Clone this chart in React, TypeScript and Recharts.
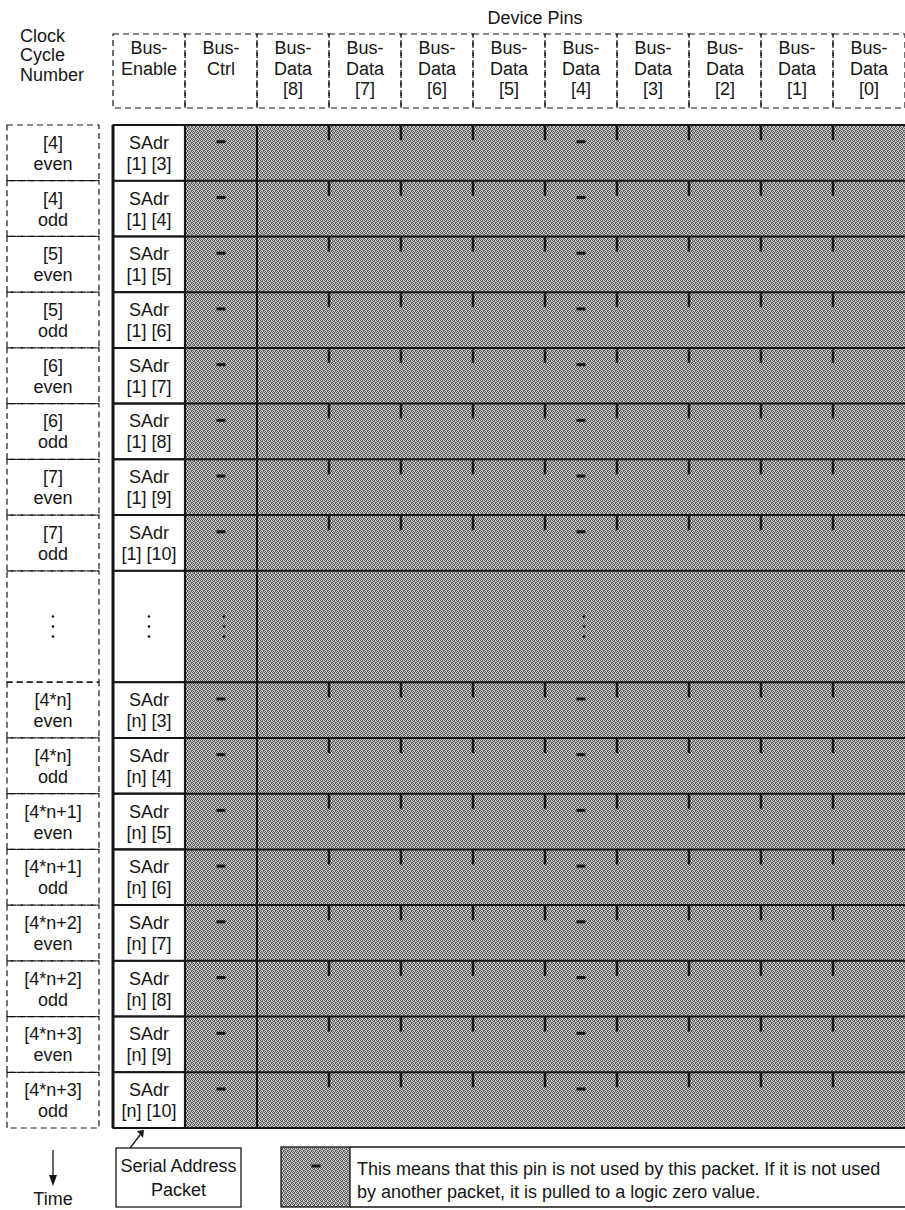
import React from "react";
import {
  ComposedChart,
  XAxis,
  YAxis,
  Scatter,
  ReferenceArea,
  ReferenceLine
} from "recharts";

// pins across the top
const columnHeads = [
  ["Bus-", "Enable"],
  ["Bus-", "Ctrl"],
  ["Bus-", "Data", "[8]"],
  ["Bus-", "Data", "[7]"],
  ["Bus-", "Data", "[6]"],
  ["Bus-", "Data", "[5]"],
  ["Bus-", "Data", "[4]"],
  ["Bus-", "Data", "[3]"],
  ["Bus-", "Data", "[2]"],
  ["Bus-", "Data", "[1]"],
  ["Bus-", "Data", "[0]"]
];

// clock cycles down the side (null = the "..." gap row)
const cycleNumbers = [
  "[4]", "[4]", "[5]", "[5]", "[6]", "[6]", "[7]", "[7]",
  null,
  "[4*n]", "[4*n]", "[4*n+1]", "[4*n+1]", "[4*n+2]", "[4*n+2]", "[4*n+3]", "[4*n+3]"
];
const cyclePhases = [
  "even", "odd", "even", "odd", "even", "odd", "even", "odd",
  null,
  "even", "odd", "even", "odd", "even", "odd", "even", "odd"
];
const packetBits = [
  "[1] [3]", "[1] [4]", "[1] [5]", "[1] [6]", "[1] [7]", "[1] [8]", "[1] [9]", "[1] [10]",
  null,
  "[n] [3]", "[n] [4]", "[n] [5]", "[n] [6]", "[n] [7]", "[n] [8]", "[n] [9]", "[n] [10]"
];
const rowSpans = [1, 1, 1, 1, 1, 1, 1, 1, 2, 1, 1, 1, 1, 1, 1, 1, 1];

// columns carrying the "-" (unused) mark, and the column edges with short ticks
const unusedMarkCols = [1, 6];
const tickEdges = [3, 4, 5, 6, 7, 8, 9, 10];

const W = 905;
const H = 1210;
const PLOT_LEFT = 113;
const PLOT_TOP = 125;
const PLOT_BOTTOM = 1128;
const NCOLS = columnHeads.length;
const COL_W = (W - PLOT_LEFT) / NCOLS;

let acc = 0;
const rows = rowSpans.map((span, i) => {
  const start = acc;
  acc += span;
  return {
    i,
    span,
    start,
    end: acc,
    mid: start + span / 2,
    cycle: cycleNumbers[i],
    phase: cyclePhases[i],
    bits: packetBits[i],
    gap: cycleNumbers[i] === null
  };
});
const NROWS = acc;
const ROW_H = (PLOT_BOTTOM - PLOT_TOP) / NROWS;

const packetCells = rows.map((r) => ({ x: 0.5, y: r.mid, bits: r.bits, gap: r.gap }));
const unusedMarks = rows.flatMap((r) =>
  unusedMarkCols.map((c) => ({ x: c + 0.5, y: r.gap ? r.mid : r.start + 0.3, gap: r.gap }))
);
const boundaries = [0, ...rows.map((r) => r.end)];

const FONT = "'Liberation Sans', Arial, Helvetica, sans-serif";
const FS = 18;
const INK = "#161616";

// halftone screen for the "unused pin" shading
const SCREEN = ["1010", "0110", "1001", "0101"];

const Dots = ({ cx, cy }: any) => (
  <g fill={INK}>
    <circle cx={cx} cy={cy - 10} r={1.3} />
    <circle cx={cx} cy={cy} r={1.3} />
    <circle cx={cx} cy={cy + 10} r={1.3} />
  </g>
);

const HeaderTick = ({ x, y, payload }: any) => {
  const lines = columnHeads[Math.round(payload.value - 0.5)];
  return (
    <g>
      <rect
        x={x - COL_W / 2}
        y={y - 91}
        width={COL_W}
        height={74}
        fill="none"
        stroke={INK}
        strokeWidth={1.2}
        strokeDasharray="6 4"
      />
      {lines.map((t, k) => (
        <text key={k} x={x} y={y - 71 + k * 20.5} textAnchor="middle" fontFamily={FONT} fontSize={FS} fill={INK}>
          {t}
        </text>
      ))}
    </g>
  );
};

const CycleTick = ({ x, y, payload }: any) => {
  const row = rows.find((r) => Math.abs(r.mid - payload.value) < 1e-6);
  if (!row) return null;
  const h = row.span * ROW_H;
  const cx = x - 60;
  return (
    <g>
      <rect
        x={x - 106}
        y={y - h / 2}
        width={92}
        height={h}
        fill="none"
        stroke={INK}
        strokeWidth={1.2}
        strokeDasharray="6 4"
      />
      {row.gap ? (
        <Dots cx={cx} cy={y} />
      ) : (
        <>
          <text x={cx} y={y - 4} textAnchor="middle" fontFamily={FONT} fontSize={FS} fill={INK}>
            {row.cycle}
          </text>
          <text x={cx} y={y + 17} textAnchor="middle" fontFamily={FONT} fontSize={FS} fill={INK}>
            {row.phase}
          </text>
        </>
      )}
    </g>
  );
};

const PacketText = ({ cx, cy, payload }: any) =>
  payload.gap ? (
    <Dots cx={cx} cy={cy} />
  ) : (
    <g fontFamily={FONT} fontSize={FS} fill={INK} textAnchor="middle">
      <text x={cx} y={cy - 4}>SAdr</text>
      <text x={cx} y={cy + 17}>{payload.bits}</text>
    </g>
  );

const UnusedMark = ({ cx, cy, payload }: any) =>
  payload.gap ? (
    <Dots cx={cx + 3} cy={cy} />
  ) : (
    <line x1={cx - 4.5} x2={cx + 4.5} y1={cy} y2={cy} stroke={INK} strokeWidth={3} />
  );

export default function App() {
  return (
    <div style={{ position: "absolute", left: 0, top: 0, width: W, height: H, background: "#fff" }}>
      <svg width={0} height={0} style={{ position: "absolute" }}>
        <defs>
          <pattern id="halftone" width={4} height={4} patternUnits="userSpaceOnUse">
            <rect width={4} height={4} fill="#c9c9c9" />
            {SCREEN.flatMap((row, j) =>
              row.split("").map((c, i) =>
                c === "1" ? <rect key={`${i}-${j}`} x={i} y={j} width={1} height={1} fill="#5a5a5a" /> : null
              )
            )}
          </pattern>
        </defs>
      </svg>
      <ComposedChart
        width={W}
        height={H}
        margin={{ top: PLOT_TOP - 100, right: 0, bottom: H - PLOT_BOTTOM, left: 0 }}
      >
        <XAxis
          dataKey="x"
          type="number"
          orientation="top"
          domain={[0, NCOLS]}
          ticks={columnHeads.map((_, i) => i + 0.5)}
          interval={0}
          height={100}
          axisLine={false}
          tickLine={false}
          tickSize={0}
          tickMargin={0}
          tick={(p: any) => <HeaderTick {...p} />}
        />
        <YAxis
          dataKey="y"
          type="number"
          domain={[0, NROWS]}
          reversed
          ticks={rows.map((r) => r.mid)}
          interval={0}
          width={PLOT_LEFT}
          axisLine={false}
          tickLine={false}
          tickSize={0}
          tickMargin={0}
          tick={(p: any) => <CycleTick {...p} />}
        />

        <ReferenceArea x1={1} x2={NCOLS} y1={0} y2={NROWS} fill="url(#halftone)" fillOpacity={1} stroke="none" />
        {rows.map((r) => (
          <ReferenceArea
            key={`cell-${r.i}`}
            x1={0}
            x2={1}
            y1={r.start}
            y2={r.end}
            fill="#fff"
            fillOpacity={1}
            stroke={INK}
            strokeWidth={1.6}
          />
        ))}
        {boundaries.map((b) => (
          <ReferenceLine
            key={`row-${b}`}
            segment={[{ x: 0, y: b }, { x: NCOLS, y: b }]}
            stroke={INK}
            strokeWidth={2}
          />
        ))}
        <ReferenceLine x={0} stroke={INK} strokeWidth={3} />
        <ReferenceLine x={1} stroke={INK} strokeWidth={2.2} />
        <ReferenceLine x={2} stroke={INK} strokeWidth={2} />
        {rows
          .filter((r) => !r.gap)
          .flatMap((r) =>
            tickEdges.map((e) => (
              <ReferenceLine
                key={`tick-${r.i}-${e}`}
                segment={[{ x: e, y: r.start }, { x: e, y: r.start + 0.27 }]}
                stroke={INK}
                strokeWidth={2.5}
              />
            ))
          )}

        <Scatter data={packetCells} dataKey="y" isAnimationActive={false} shape={(p: any) => <PacketText {...p} />} />
        <Scatter data={unusedMarks} dataKey="y" isAnimationActive={false} shape={(p: any) => <UnusedMark {...p} />} />
      </ComposedChart>

      <svg
        width={W}
        height={H}
        style={{ position: "absolute", left: 0, top: 0, pointerEvents: "none" }}
        fontFamily={FONT}
        fontSize={FS}
        fill={INK}
      >
        <text x={535} y={24} textAnchor="middle">Device Pins</text>
        <text x={20} y={42}>Clock</text>
        <text x={20} y={61}>Cycle</text>
        <text x={20} y={81}>Number</text>

        <line x1={53} x2={53} y1={1150} y2={1178} stroke={INK} strokeWidth={1.3} />
        <polygon points="49,1175 57,1175 53,1186" fill={INK} />
        <text x={53} y={1205} textAnchor="middle">Time</text>

        <line x1={130} y1={1148} x2={140} y2={1135} stroke={INK} strokeWidth={1.3} />
        <polygon points="137,1131 144,1130 143,1138" fill={INK} />
        <rect x={116} y={1148} width={125} height={59} fill="#fff" stroke={INK} strokeWidth={1.3} />
        <text x={178.5} y={1172} textAnchor="middle">Serial Address</text>
        <text x={178.5} y={1196} textAnchor="middle">Packet</text>

        <rect x={281} y={1147} width={69} height={60} fill="url(#halftone)" stroke={INK} strokeWidth={1.3} />
        <line x1={311.5} x2={320.5} y1={1166} y2={1166} stroke={INK} strokeWidth={3} />
        <line x1={350} x2={W} y1={1147} y2={1147} stroke={INK} strokeWidth={1.3} />
        <line x1={350} x2={W} y1={1207} y2={1207} stroke={INK} strokeWidth={1.3} />
        <text x={357} y={1175}>This means that this pin is not used by this packet. If it is not used</text>
        <text x={357} y={1198}>by another packet, it is pulled to a logic zero value.</text>
      </svg>
    </div>
  );
}
